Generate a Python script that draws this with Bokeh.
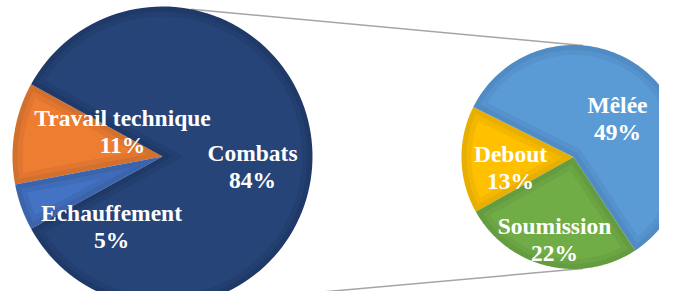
import numpy as np
from bokeh.plotting import figure
from bokeh.models import Range1d, ColumnDataSource
from bokeh.core.properties import value
from bokeh.embed import file_html
from bokeh.resources import INLINE

# ---------------- data ----------------
main_labels = ["Travail technique", "Echauffement", "Combats"]
main_values = [11, 5, 84]
main_colors = ["#ED7D31", "#4472C4", "#264478"]
main_borders = ["#d2702d", "#3b64ad", "#1f3a68"]

sub_labels = ["Debout", "Soumission", "Mêlée"]
sub_values = [13, 22, 49]          # shares of the whole (sum = Combats share)
sub_colors = ["#FFC000", "#70AD47", "#5B9BD5"]
sub_borders = ["#e8ae00", "#649c3f", "#508bc3"]

# ---------------- layout (pixel coordinates of the picture, y up) ----------------
H = 307
big_c = (162.0, H - 156.0)
big_r = 150.0
big_start = 180.0 - 28.8          # degrees, anticlockwise start of first slice
small_c = (573.0, H - 156.5)
small_r = 112.0
small_start = 153.5

# label anchors: offsets (dx, dy-down) from pie centre, in pixels
big_label_off = [(-40, -39), (-51, 56), (90, -4)]
small_label_off = [(-63, -3), (-19, 69), (44, -52)]
line_gap = 27

border_w = 10.0


def sector(cx, cy, r, a1, a2, w, n=120):
    th = (a2 - a1) / 2.0
    b = a1 + th
    rho = r - w
    d = w / np.sin(th) if w > 0 else 0.0
    if d >= rho:
        return None
    t = np.sqrt(rho ** 2 - w ** 2)
    dl = np.arctan2(w, t)
    arc = np.linspace(a1 + dl, a2 - dl, n)
    xs = [cx + d * np.cos(b)] + list(cx + rho * np.cos(arc))
    ys = [cy + d * np.sin(b)] + list(cy + rho * np.sin(arc))
    return xs, ys


def mix(c1, c2, f):
    a = [int(c1[i:i + 2], 16) for i in (1, 3, 5)]
    b = [int(c2[i:i + 2], 16) for i in (1, 3, 5)]
    return "#%02x%02x%02x" % tuple(int(round(a[k] * (1 - f) + b[k] * f)) for k in range(3))


def pie_patches(center, r, start_deg, vals, total, colors, borders):
    xs, ys, cols = [], [], []
    a = np.radians(start_deg)
    for v, c, bc in zip(vals, colors, borders):
        a2 = a + 2 * np.pi * v / total
        for w, col in ((0.0, bc), (border_w * 0.5, mix(bc, c, 0.5)), (border_w, c)):
            s = sector(center[0], center[1], r, a, a2, w)
            if s is not None:
                xs.append(s[0]); ys.append(s[1]); cols.append(col)
        a = a2
    return xs, ys, cols


W_FIG, H_FIG = 659, 291
p = figure(width=W_FIG, height=H_FIG, output_backend="svg", toolbar_location=None,
           x_range=Range1d(0, W_FIG), y_range=Range1d(H - H_FIG, H), min_border=0)
p.axis.visible = False
p.grid.visible = False
p.outline_line_color = None
p.background_fill_color = "white"
p.border_fill_color = "white"

# connector lines
big_conn = [79.0, -79.0]
small_conn = [85.0, -85.0]
for ba, sa in zip(big_conn, small_conn):
    x0 = big_c[0] + big_r * np.cos(np.radians(ba))
    y0 = big_c[1] + big_r * np.sin(np.radians(ba))
    x1 = small_c[0] + small_r * np.cos(np.radians(sa))
    y1 = small_c[1] + small_r * np.sin(np.radians(sa))
    p.line([x0, x1], [y0, y1], line_color="#a5a5a5", line_width=1.5)

total = sum(main_values)
bx, by, bcol = pie_patches(big_c, big_r, big_start, main_values, total, main_colors, main_borders)
sx, sy, scol = pie_patches(small_c, small_r, small_start, sub_values, sum(sub_values), sub_colors, sub_borders)
p.patches(bx + sx, by + sy, fill_color=bcol + scol, line_color=None)

# labels
names, pcts, lx, ly = [], [], [], []
for lab, v, off in zip(main_labels, main_values, big_label_off):
    names.append(lab); pcts.append(f"{round(100 * v / total)}%")
    lx.append(big_c[0] + off[0]); ly.append(big_c[1] - off[1])
for lab, v, off in zip(sub_labels, sub_values, small_label_off):
    names.append(lab); pcts.append(f"{round(100 * v / total)}%")
    lx.append(small_c[0] + off[0]); ly.append(small_c[1] - off[1])

src = ColumnDataSource(dict(x=lx, y=ly, y2=[v - line_gap for v in ly], name=names, pct=pcts))
common = dict(text_font=value("Liberation Serif"), text_font_style="bold",
              text_font_size="23.5px", text_align="center", text_baseline="alphabetic",
              text_color="white")
p.text(x="x", y="y", text="name", source=src, **common)
p.text(x="x", y="y2", text="pct", source=src, **common)

open("out.html", "w").write(file_html(p, INLINE))
